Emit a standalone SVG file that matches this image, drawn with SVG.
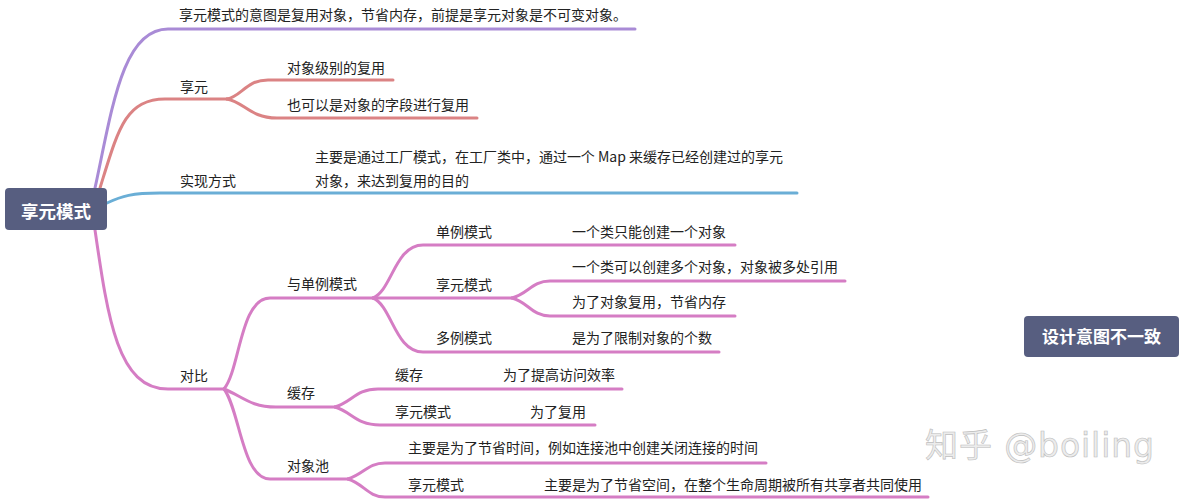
<svg xmlns="http://www.w3.org/2000/svg" width="1184" height="500" viewBox="0 0 1184 500">
<style>
text{font-family:"Noto Sans CJK SC","Noto Sans",sans-serif;font-size:14px;fill:#222}
.c path{fill:none;stroke-width:3;stroke-linecap:round}
.pu{stroke:#A98BD6}
.rd{stroke:#DB8384}
.bl{stroke:#6AAED6}
.pk{stroke:#D57DC4}
.box{fill:#575E80}
.bt{fill:#fff;font-weight:bold;text-anchor:middle}
.wm{font-family:"DejaVu Sans","Noto Sans CJK SC",sans-serif;font-size:33px;fill:#ececec;stroke:#bdbdbd;stroke-width:0.6}
</style>
<rect width="1184" height="500" fill="#fff"/>
<g class="c" id="connectors">
<path class="pu" d="M95,188 C112,110 122,29 168,29 L635,29"/>
<path class="rd" d="M100,188 C118,130 125,99 165,99 L227,99"/>
<path class="rd" d="M227,99 C242,96 246,80 268,80 L393,80"/>
<path class="rd" d="M227,99 C244,102 250,118 277,118 L477,118"/>
<path class="bl" d="M107,203 C122,196 132,193 160,193 L797,193"/>
<path class="pk" d="M95,230 C108,320 118,389 168,389 L224,389"/>
<path class="pk" d="M224,389 C240,370 240,298 270,298 L373,298"/>
<path class="pk" d="M224,389 C242,396 250,407 276,407 L335,407"/>
<path class="pk" d="M224,389 C240,410 242,479 270,479 L348,479"/>
<path class="pk" d="M373,298 C392,290 395,245 423,245 L735,245"/>
<path class="pk" d="M373,298 L512,298"/>
<path class="pk" d="M373,298 C392,306 395,352 423,352 L719,352"/>
<path class="pk" d="M512,298 C528,294 532,281 550,281 L845,281"/>
<path class="pk" d="M512,298 C528,302 532,316 550,316 L735,316"/>
<path class="pk" d="M335,407 C352,402 356,389 378,389 L622,389"/>
<path class="pk" d="M335,407 C352,412 356,425 380,425 L595,425"/>
<path class="pk" d="M348,479 C364,474 368,463 385,463 L766,463"/>
<path class="pk" d="M348,479 C364,484 368,497 385,497 L928,497"/>
</g>
<g id="root"><rect class="box" x="5" y="188" width="102" height="42" rx="4"/><text class="bt" x="56" y="218" style="font-size:17.5px">享元模式</text></g>
<g id="n-intent"><text x="179" y="20">享元模式的意图是复用对象，节省内存，前提是享元对象是不可变对象。</text></g>
<g id="n-flyweight"><text x="180" y="92">享元</text></g>
<g id="n-fw1"><text x="287" y="73">对象级别的复用</text></g>
<g id="n-fw2"><text x="287" y="110">也可以是对象的字段进行复用</text></g>
<g id="n-impl"><text x="180" y="186">实现方式</text></g>
<g id="n-impl1"><text x="315" y="162" textLength="468">主要是通过工厂模式，在工厂类中，通过一个 Map 来缓存已经创建过的享元</text><text x="315" y="186">对象，来达到复用的目的</text></g>
<g id="n-compare"><text x="180" y="381">对比</text></g>
<g id="n-singleton-cmp"><text x="287" y="289">与单例模式</text></g>
<g id="n-singleton"><text x="436" y="237">单例模式</text></g>
<g id="n-singleton1"><text x="572" y="237">一个类只能创建一个对象</text></g>
<g id="n-fwmode"><text x="436" y="290">享元模式</text></g>
<g id="n-fwmode1"><text x="572" y="272">一个类可以创建多个对象，对象被多处引用</text></g>
<g id="n-fwmode2"><text x="572" y="307">为了对象复用，节省内存</text></g>
<g id="n-multiton"><text x="436" y="343">多例模式</text></g>
<g id="n-multiton1"><text x="572" y="343">是为了限制对象的个数</text></g>
<g id="n-cache-cmp"><text x="287" y="398">缓存</text></g>
<g id="n-cache"><text x="395" y="380">缓存</text><text x="503" y="380">为了提高访问效率</text></g>
<g id="n-cache-fw"><text x="395" y="417">享元模式</text><text x="530" y="417">为了复用</text></g>
<g id="n-pool-cmp"><text x="287" y="471">对象池</text></g>
<g id="n-pool"><text x="408" y="453">主要是为了节省时间，例如连接池中创建关闭连接的时间</text></g>
<g id="n-pool-fw"><text x="408" y="490">享元模式</text><text x="544" y="490">主要是为了节省空间，在整个生命周期被所有共享者共同使用</text></g>
<g id="n-summary"><rect class="box" x="1024" y="316" width="155" height="41" rx="4"/><text class="bt" x="1101.5" y="343" style="font-size:17px">设计意图不一致</text></g>
<g id="watermark"><text class="wm" x="925" y="457" textLength="229">知乎 @boiling</text></g>
</svg>
